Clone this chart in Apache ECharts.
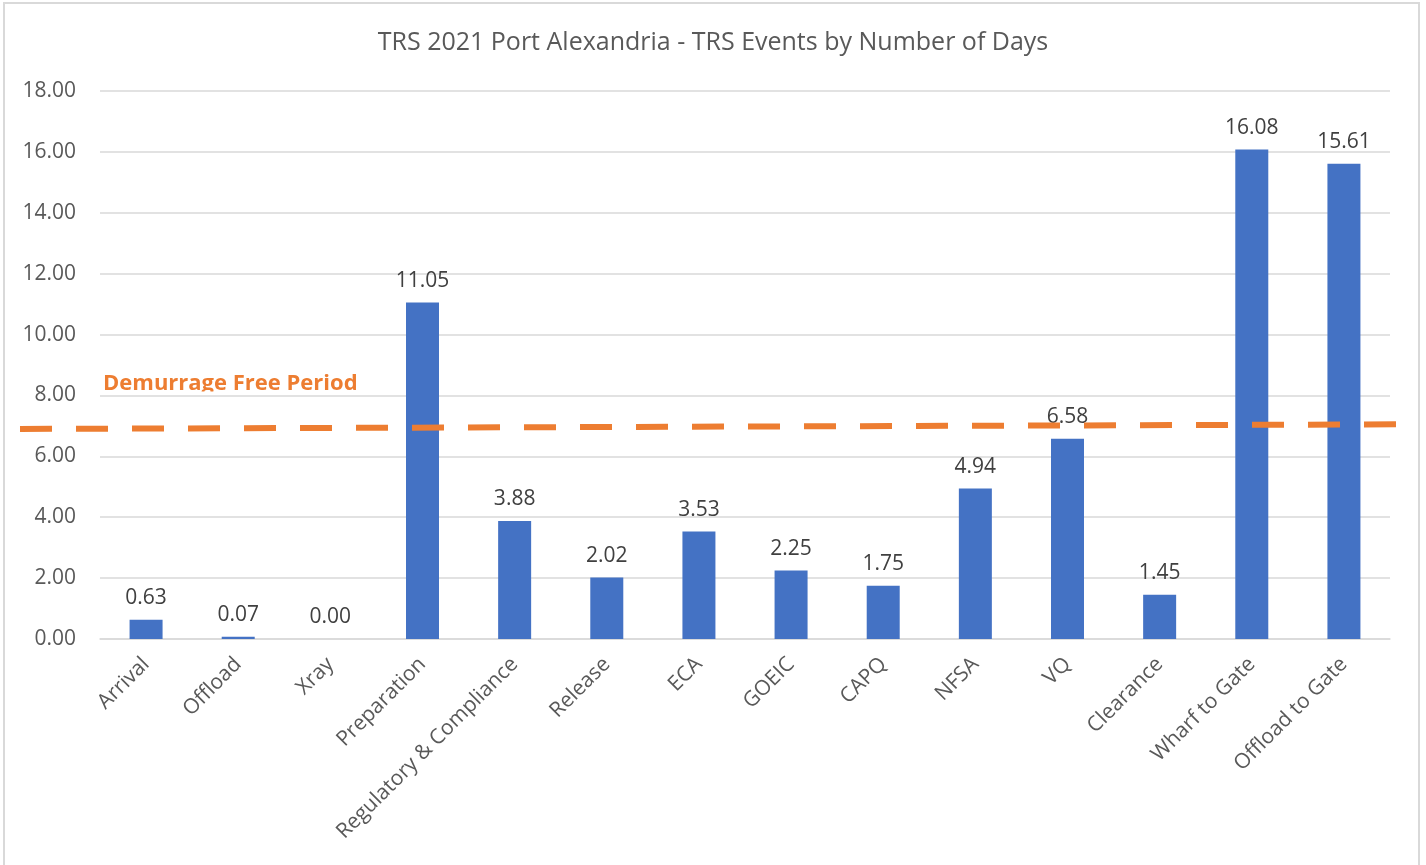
<!DOCTYPE html>
<html>
<head>
<meta charset="utf-8">
<script src="https://cdn.jsdelivr.net/npm/echarts@6/dist/echarts.min.js"></script>
<style>
  html, body { margin: 0; padding: 0; background: #fff; }
  #chart { width: 1426px; height: 865px; }
</style>
</head>
<body>
<div id="chart"></div>
<script>
// categories and values
var categories = ['Arrival', 'Offload', 'Xray', 'Preparation', 'Regulatory & Compliance', 'Release',
  'ECA', 'GOEIC', 'CAPQ', 'NFSA', 'VQ', 'Clearance', 'Wharf to Gate', 'Offload to Gate'];
var days = [0.63, 0.07, 0.00, 11.05, 3.88, 2.02, 3.53, 2.25, 1.75, 4.94, 6.58, 1.45, 16.08, 15.61];
var yTicks = [0, 2, 4, 6, 8, 10, 12, 14, 16, 18];
// hand drawn free period line, start / end level (days)
var freePeriod = [6.90, 7.05];
var freeLabel = 'Demurrage Free Period';

var font = '"Open Sans", sans-serif';

var chart = echarts.init(document.getElementById('chart'));

var option = {
  backgroundColor: '#fff',
  animation: false,
  textStyle: { fontFamily: font },
  title: {
    text: 'TRS 2021 Port Alexandria - TRS Events by Number of Days',
    left: 'center',
    top: 25,
    textStyle: { fontFamily: font, fontSize: 25, fontWeight: 'normal', color: '#595959' }
  },
  grid: { left: 100, right: 36, top: 91, bottom: 226 },
  xAxis: {
    type: 'category',
    data: categories,
    axisLine: { lineStyle: { color: '#d9d9d9', width: 1.5 } },
    axisTick: { show: false },
    axisLabel: { rotate: 45, interval: 0, margin: 22, fontSize: 21, color: '#595959', fontFamily: font }
  },
  yAxis: {
    type: 'value',
    min: yTicks[0],
    max: yTicks[yTicks.length - 1],
    interval: 2,
    axisLine: { show: false },
    axisTick: { show: false },
    splitLine: { lineStyle: { color: '#d9d9d9', width: 1.5 } },
    axisLabel: {
      margin: 24, fontSize: 21, color: '#595959', fontFamily: font,
      formatter: function (v) { return v.toFixed(2); }
    }
  },
  series: [{
    type: 'bar',
    data: days,
    barWidth: 33,
    itemStyle: { color: '#4472c4' },
    label: {
      show: true,
      position: 'top',
      distance: 11,
      fontSize: 21,
      color: '#404040',
      fontFamily: font,
      formatter: function (p) { return p.value.toFixed(2); }
    }
  }]
};
chart.setOption(option);

// dashed line + label, placed with the chart's own y scale
var y0 = chart.convertToPixel({ yAxisIndex: 0 }, freePeriod[0]);
var y1 = chart.convertToPixel({ yAxisIndex: 0 }, freePeriod[1]);
var y8 = chart.convertToPixel({ yAxisIndex: 0 }, 8);

chart.setOption({
  graphic: [
    {
      type: 'rect',
      z: 0,
      silent: true,
      shape: { x: 4, y: 3, width: 1415, height: 880 },
      style: { fill: 'none', stroke: '#d9d9d9', lineWidth: 2 }
    },
    {
      type: 'text',
      z: -2,
      left: 103,
      top: y8 - 23,
      style: { text: freeLabel, font: 'bold 22px ' + font, fill: '#ed7d31' }
    },
    {
      type: 'rect',
      z: -1,
      silent: true,
      shape: { x: 100, y: y8 - 4, width: 262, height: 12 },
      style: { fill: '#fff' }
    },
    {
      type: 'line',
      z: 10,
      silent: true,
      shape: { x1: 20, y1: y0, x2: 1398, y2: y1 },
      style: { stroke: '#ed7d31', lineWidth: 6, lineDash: [32, 24] }
    }
  ]
});
</script>
</body>
</html>
